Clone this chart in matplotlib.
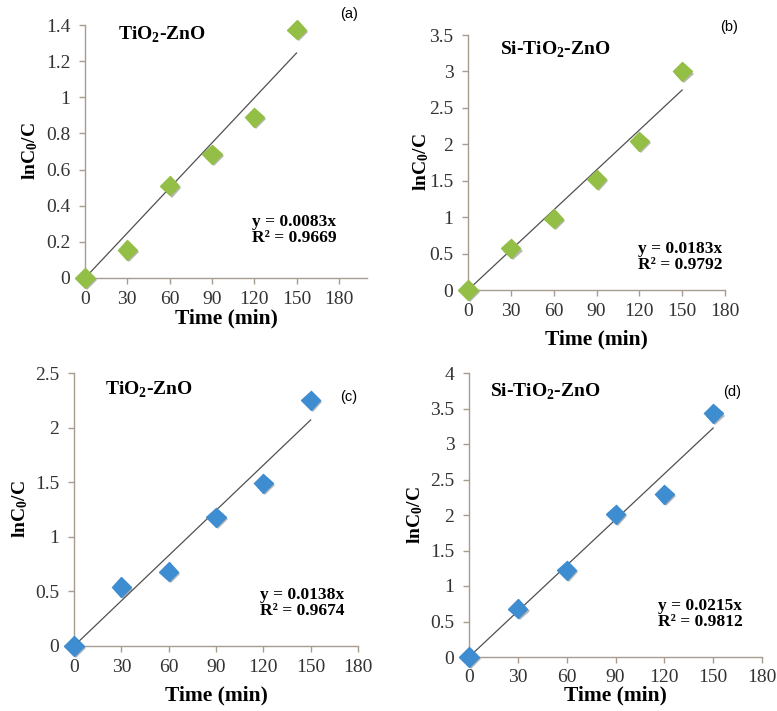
import matplotlib
matplotlib.use("Agg")
import matplotlib.pyplot as plt
import matplotlib.patheffects as pe

plt.rcParams['font.family'] = ['Liberation Serif', 'DejaVu Serif']
plt.rcParams['mathtext.fontset'] = 'custom'
plt.rcParams['mathtext.rm'] = 'Liberation Serif'
plt.rcParams['mathtext.bf'] = 'Liberation Serif:bold'

# sampling times (min)
time_min = [0, 30, 60, 90, 120, 150]

# ln(C0/C) for each catalyst / run
ln_a = [0, 0.155, 0.51, 0.685, 0.89, 1.375]
ln_b = [0, 0.57, 0.98, 1.52, 2.04, 3.0]
ln_c = [0, 0.54, 0.68, 1.18, 1.49, 2.25]
ln_d = [0, 0.68, 1.22, 2.01, 2.29, 3.43]

# fitted slopes (y = kx) and R^2
slopes = [0.0083, 0.0183, 0.0138, 0.0215]
r2 = [0.9669, 0.9792, 0.9674, 0.9812]

titles = [r'TiO$_\mathbf{2}$-ZnO', r'Si-TiO$_\mathbf{2}$-ZnO',
          r'TiO$_\mathbf{2}$-ZnO', r'Si-TiO$_\mathbf{2}$-ZnO']
tags = ['(a)', '(b)', '(c)', '(d)']
x_ticks = [0, 30, 60, 90, 120, 150, 180]

W, H = 777, 711
GREEN = '#94BF46'
BLUE = '#3E8DD0'
SPINE = '#A89C90'

fig = plt.figure(figsize=(W / 100, H / 100), dpi=100)


def px_axes(l, t, r, b):
    return fig.add_axes([l / W, 1 - b / H, (r - l) / W, (b - t) / H])


def ftext(x, y, s, **kw):
    fig.text(x / W, 1 - y / H, s, **kw)


panels = [
    # data, color, axes box (px), ylim, ystep, xmax, xlabel pad, ylabel pad
    (ln_a, GREEN, (85, 25, 367, 278), 1.4, 0.2, 200, 0, 4),
    (ln_b, GREEN, (468, 35, 725, 290), 3.5, 0.5, 180, 7, -1),
    (ln_c, BLUE, (74, 373, 358, 646), 2.5, 0.5, 180, 7, 4),
    (ln_d, BLUE, (469, 373, 762, 657), 4.0, 0.5, 180, 0, 4),
]

axes = []
for i, (vals, col, box, ymax, ystep, xmax, xpad, ypad) in enumerate(panels):
    ax = px_axes(*box)
    axes.append(ax)
    fit = [slopes[i] * t for t in time_min]
    ax.plot(time_min, fit, color='#505050', lw=0.9, zorder=2)
    ax.plot(time_min, vals, ls='none', marker='D', ms=9.8, color=col,
            mec=col, zorder=3, clip_on=False,
            path_effects=[pe.SimplePatchShadow(offset=(1.5, -1.5),
                                               shadow_rgbFace='#606060',
                                               alpha=0.45),
                          pe.Normal()])
    ax.set_xlim(0, xmax)
    ax.set_ylim(0, ymax)
    ax.set_xticks(x_ticks)
    n = int(round(ymax / ystep))
    yt = [round(k * ystep, 1) for k in range(n + 1)]
    ax.set_yticks(yt)
    ax.set_yticklabels(['%g' % v for v in yt])
    for s in ['top', 'right']:
        ax.spines[s].set_visible(False)
    for s in ['left', 'bottom']:
        ax.spines[s].set_color(SPINE)
        ax.spines[s].set_linewidth(1.0)
    ax.tick_params(direction='out', length=4.5, width=1, color=SPINE,
                   labelsize=14, labelcolor='#333333')
    ax.tick_params(axis='y', pad=6)
    ax.tick_params(axis='x', pad=4 if i == 3 else 5)
    ax.set_xlabel('Time (min)', fontsize=15.5, fontweight='bold',
                  labelpad=xpad)
    ax.set_ylabel(r'$\mathbf{lnC_0/C}$', fontsize=14, labelpad=ypad)

# panel titles, fit equations and tags
title_pos = [(118, 35), (500, 50), (105, 390), (490, 392)]
eq_pos = [(252, 230), (638, 257), (260, 603), (658, 614)]
tag_pos = [(340, 14), (720, 27), (340, 397), (723, 392)]

for i in range(4):
    ftext(*title_pos[i], titles[i], fontsize=14, fontweight='bold',
          va='center', ha='left')
    ftext(*eq_pos[i], 'y = %.4fx\nR² = %.4f' % (slopes[i], r2[i]),
          fontsize=12.5, fontweight='bold', va='center', ha='left',
          linespacing=1.05)
    ftext(*tag_pos[i], tags[i], fontsize=10.5, family='Liberation Sans',
          va='center', ha='left')

fig.savefig('out.png', dpi=100)
